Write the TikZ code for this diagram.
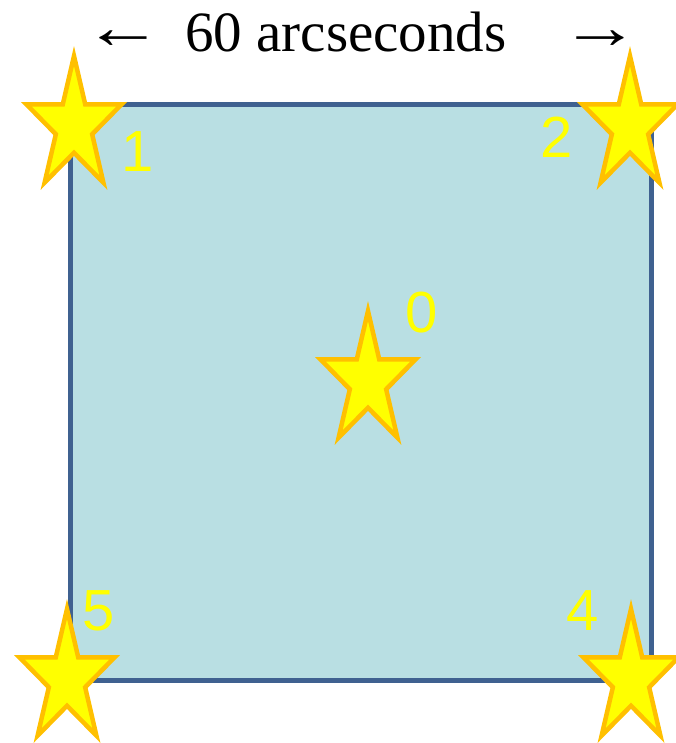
\documentclass[tikz,border=0pt]{standalone}
\usepackage{fontspec}
\setmainfont{Liberation Serif}
\newfontfamily\digitfont{Liberation Sans}
\usetikzlibrary{calc}
\definecolor{fieldfill}{HTML}{B9DFE3}
\definecolor{fieldline}{HTML}{3F6190}
\definecolor{staredge}{HTML}{FFC000}
\definecolor{starfill}{HTML}{FFFF00}
\tikzset{
  field/.style={draw=fieldline, fill=fieldfill, line width=5pt, inner sep=0pt},
  starshape/.style={draw=staredge, fill=starfill, line width=4.5pt, line join=miter, miter limit=12},
  numlbl/.style={text=starfill, font=\digitfont\fontsize{58}{58}\selectfont, inner sep=0pt, anchor=base},
  titletext/.style={font=\fontsize{57}{57}\selectfont, inner sep=0pt, anchor=base},
}
\newcommand\mystar[1]{%
  \begin{scope}[shift={(#1)}]
    \draw[starshape] (0,-70) \foreach \i in {1,...,9}{
      -- ({50*cos(90+36*\i)*(mod(\i,2)==0?1:0.382)}, {-70*sin(90+36*\i)*(mod(\i,2)==0?1:0.382)})
    } -- cycle;
  \end{scope}}
\begin{document}
\begin{tikzpicture}[x=1pt,y=-1pt]
  \useasboundingbox (0,0) rectangle (676,743);
  \fill[white] (0,0) rectangle (676,743);
  % field of view
  \node[field, minimum width=581pt, minimum height=575pt] (fov) at (360.5,392.5) {};
  % title
  \node[titletext] (title) at (346,52) {60 arcseconds};
  \node[titletext] (larr) at (123,49) {\scalebox{1.4}[1.1]{←}};
  \node[titletext] (rarr) at (600,49) {\scalebox{1.4}[1.1]{→}};
  % star positions
  \coordinate (s0) at (368,381);
  \coordinate (s1) at (74,126);
  \coordinate (s2) at (630,126);
  \coordinate (s4) at (631,679);
  \coordinate (s5) at (67,679);
  \mystar{s0}
  \mystar{s1}
  \mystar{s2}
  \mystar{s4}
  \mystar{s5}
  % labels
  \node[numlbl] (l0) at (422,332) {0};
  \node[numlbl] (l1) at (138,172) {1};
  \node[numlbl] (l2) at (557,158) {2};
  \node[numlbl] (l4) at (583,630) {4};
  \node[numlbl] (l5) at (99,630) {5};
\end{tikzpicture}
\end{document}
